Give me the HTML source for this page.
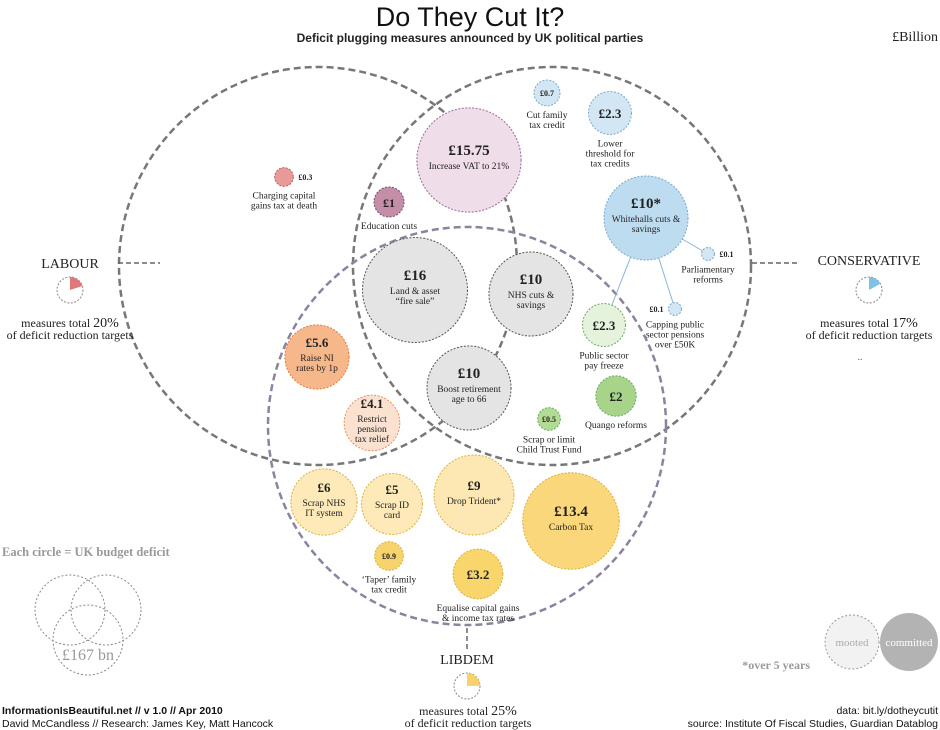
<!DOCTYPE html>
<html><head><meta charset="utf-8"><style>
body{margin:0;background:#fff;}
svg{display:block;font-family:"Liberation Serif",serif;}
.s{font-family:"Liberation Sans",sans-serif;}
</style></head><body>
<svg id="c" width="940" height="730" viewBox="0 0 940 730">
<text x="470" y="26" text-anchor="middle" class="s" font-size="27" fill="#111">Do They Cut It?</text>
<text x="470" y="42" text-anchor="middle" class="s" font-size="12" font-weight="bold" fill="#222">Deficit plugging measures announced by UK political parties</text>
<text x="938" y="41" text-anchor="end" font-size="14" fill="#222">£Billion</text>
<g id="venn"></g>
<g id="bub"></g>
<line x1="118" y1="263" x2="160" y2="263" stroke="#666" stroke-width="1.5" stroke-dasharray="5,3"/>
<text x="70" y="268" text-anchor="middle" font-size="14" fill="#222">LABOUR</text>
<text x="70" y="327" text-anchor="middle" font-size="12" fill="#222">measures total <tspan font-size="14">20%</tspan></text>
<text x="70" y="339" text-anchor="middle" font-size="12" fill="#222">of deficit reduction targets</text>
<line x1="752" y1="263" x2="800" y2="263" stroke="#666" stroke-width="1.5" stroke-dasharray="5,3"/>
<text x="869" y="265" text-anchor="middle" font-size="14" fill="#222">CONSERVATIVE</text>
<text x="869" y="327" text-anchor="middle" font-size="12" fill="#222">measures total <tspan font-size="14">17%</tspan></text>
<text x="869" y="339" text-anchor="middle" font-size="12" fill="#222">of deficit reduction targets</text>
<text x="860" y="360" text-anchor="middle" font-size="10" fill="#666">..</text>
<line x1="467" y1="628" x2="467" y2="650" stroke="#666" stroke-width="1.5" stroke-dasharray="5,3"/>
<text x="467" y="664" text-anchor="middle" font-size="14" fill="#222">LIBDEM</text>
<text x="468" y="715" text-anchor="middle" font-size="12" fill="#222">measures total <tspan font-size="14">25%</tspan></text>
<text x="468" y="727" text-anchor="middle" font-size="12" fill="#222">of  deficit reduction targets</text>
<g id="pies"></g>
<text x="2" y="556" font-size="12.5" font-weight="bold" fill="#999">Each circle = UK budget deficit</text>
<g fill="none" stroke="#888" stroke-dasharray="2,2">
<circle cx="70" cy="610" r="35"/><circle cx="106" cy="610" r="35"/><circle cx="88" cy="640" r="35"/></g>
<text x="88" y="660" text-anchor="middle" font-size="16" fill="#999">£167 bn</text>
<text x="810" y="669" text-anchor="end" font-size="12" font-weight="bold" fill="#999">*over 5 years</text>
<circle cx="852" cy="642" r="27" fill="#f2f2f2" stroke="#999" stroke-dasharray="2,2"/>
<text x="852" y="646" text-anchor="middle" font-size="11" fill="#aaa">mooted</text>
<circle cx="909" cy="642" r="29" fill="#b3b3b3"/>
<text x="909" y="646" text-anchor="middle" font-size="11" fill="#fff">committed</text>
<text x="2" y="714" class="s" font-size="10.5" font-weight="bold" fill="#111">InformationIsBeautiful.net // v 1.0 // Apr 2010</text>
<text x="2" y="727" class="s" font-size="10.5" fill="#111">David McCandless // Research: James Key, Matt Hancock</text>
<text x="938" y="714" text-anchor="end" class="s" font-size="10.5" fill="#111">data: bit.ly/dotheycutit</text>
<text x="938" y="727" text-anchor="end" class="s" font-size="10.5" fill="#111">source: Institute Of Fiscal Studies, Guardian Datablog</text>
</svg>
<script>
const NS="http://www.w3.org/2000/svg";
const values=[15.75,16,10,10,1,0.3,0.7,2.3,10,0.1,0.1,2.3,2,0.5,5.6,4.1,6,5,9,13.4,0.9,3.2];
const valueLabels=["£15.75","£16","£10","£10","£1","£0.3","£0.7","£2.3","£10*","£0.1","£0.1","£2.3","£2","£0.5","£5.6","£4.1","£6","£5","£9","£13.4","£0.9","£3.2"];
const names=["Increase VAT to 21%","Land & asset|“fire sale”","NHS cuts &|savings","Boost retirement|age to 66","Education cuts","Charging capital|gains tax at death","Cut family|tax credit","Lower|threshold for|tax credits","Whitehalls cuts &|savings","Parliamentary|reforms","Capping public|sector pensions|over £50K","Public sector|pay freeze","Quango reforms","Scrap or limit|Child Trust Fund","Raise NI|rates by 1p","Restrict|pension|tax relief","Scrap NHS|IT system","Scrap ID|card","Drop Trident*","Carbon Tax","‘Taper’ family|tax credit","Equalise capital gains|& income tax rates"];
const cxs=[469,415,531,469,389,284,547,610,646,708,675,604,616,549,317,372,324,392,474,571,389,478];
const cys=[160,290,294,388,202,177,93,113,218,254,309,325,396,419,357,423,502,504,495,521,556,574];
const fills=["#efdde9","#e4e4e4","#e4e4e4","#e4e4e4","#c58ea8","#e79a9a","#d3e6f4","#d3e6f4","#bedcf0","#d3e6f4","#d3e6f4","#e6f3dc","#a8d48a","#b2db94","#f6b88a","#fbe2d0","#fdeab8","#fdeab8","#fde7b3","#fad77a","#f6d36c","#f8d66c"];
const strokes=["#9a6a9a","#555","#555","#555","#7a4a6a","#c55","#7aa8d0","#7aa8d0","#7aa8d0","#7aa8d0","#7aa8d0","#6a6","#6a6","#6a6","#e07a3a","#e09060","#d9b040","#d9b040","#d9b040","#d9b040","#d9b040","#d9b040"];
const inside=[1,1,1,1,0,0,0,0,1,0,0,0,0,0,1,1,1,1,1,1,0,0];
const rScale=v=>12.5*Math.sqrt(v)+2.5;
const venn=[[318,266],[552,266],[467,426]];
const vennColors=["#777","#777","#8a84a0"];
const vg=document.getElementById('venn');
venn.forEach((p,i)=>{const c=document.createElementNS(NS,'circle');
c.setAttribute('cx',p[0]);c.setAttribute('cy',p[1]);c.setAttribute('r',199);
c.setAttribute('fill','none');c.setAttribute('stroke',vennColors[i]);c.setAttribute('stroke-width','2.5');c.setAttribute('stroke-dasharray','7,4');


vg.appendChild(c);});
const bg=document.getElementById('bub');
[[9],[10],[11]].forEach(([j])=>{const l=document.createElementNS(NS,'line');
l.setAttribute('x1',cxs[8]);l.setAttribute('y1',cys[8]);l.setAttribute('x2',cxs[j]);l.setAttribute('y2',cys[j]);
l.setAttribute('stroke','#8ab4d8');bg.appendChild(l);});
function txt(x,y,s,size,w){const t=document.createElementNS(NS,'text');t.setAttribute('x',x);t.setAttribute('y',y);
t.setAttribute('text-anchor','middle');t.setAttribute('font-size',size);if(w)t.setAttribute('font-weight','bold');t.setAttribute('fill','#222');t.textContent=s;bg.appendChild(t);return t;}
values.forEach((v,i)=>{const r=rScale(v);const c=document.createElementNS(NS,'circle');
c.setAttribute('cx',cxs[i]);c.setAttribute('cy',cys[i]);c.setAttribute('r',r);
c.setAttribute('fill',fills[i]);c.setAttribute('stroke',strokes[i]);c.setAttribute('stroke-dasharray','2,1.5');


bg.appendChild(c);
const lines=names[i].split('|');
if(inside[i]){const vs=r>40?15:13;const top=cys[i]-(lines.length*10)/2;
txt(cxs[i],top,valueLabels[i],vs,true);
lines.forEach((l,k)=>txt(cxs[i],top+14+k*10,l,9.5));}
else{const small=v<1;
if(small){const dx=(i==5||i==9)?r+12:(i==10?-r-12:0);txt(cxs[i]+dx,cys[i]+3,valueLabels[i],8,true);}
else txt(cxs[i],cys[i]+5,valueLabels[i],r>20?13:12,true);
lines.forEach((l,k)=>txt(cxs[i],cys[i]+r+12+k*10,l,9.5));}
});
const shares=[20,17,25];const pieCx=[70,869,467];const pieCy=[290,290,686];const pieCol=["#e07a7a","#7ec2e8","#f9d36a"];
const pg=document.getElementById('pies');
shares.forEach((s,i)=>{const c=document.createElementNS(NS,'circle');c.setAttribute('cx',pieCx[i]);c.setAttribute('cy',pieCy[i]);c.setAttribute('r',13);
c.setAttribute('fill','#fff');c.setAttribute('stroke','#888');c.setAttribute('stroke-dasharray','2,1.5');


pg.appendChild(c);
const a=s/100*2*Math.PI,x=pieCx[i]+13*Math.sin(a),y=pieCy[i]-13*Math.cos(a);
const p=document.createElementNS(NS,'path');p.setAttribute('d',`M${pieCx[i]},${pieCy[i]}L${pieCx[i]},${pieCy[i]-13}A13,13 0 0 1 ${x},${y}Z`);
p.setAttribute('fill',pieCol[i]);pg.appendChild(p);});
</script>
</body></html>
